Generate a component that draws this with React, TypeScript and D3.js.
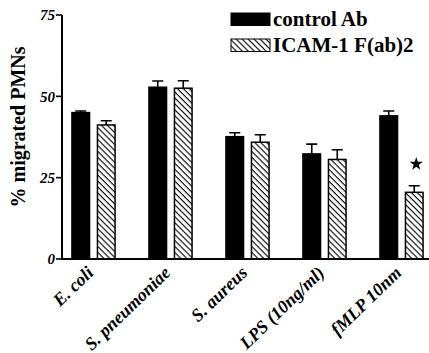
import React, { useRef, useEffect } from 'react';
import * as d3 from 'd3';

const categories = ['E. coli', 'S. pneumoniae', 'S. aureus', 'LPS (10ng/ml)', 'fMLP 10nm'];
const seriesNames = ['control Ab', 'ICAM-1 F(ab)2'];
const controlValues = [45.0, 52.8, 37.6, 32.3, 44.0];
const controlErrors = [0.5, 1.9, 1.2, 3.0, 1.5];
const icamValues = [41.2, 52.5, 35.9, 30.6, 20.5];
const icamErrors = [1.3, 2.3, 2.3, 3.0, 2.0];
const yTicks = [0, 25, 50, 75];
const significant = [false, false, false, false, true];

const FONT = 'Liberation Serif';

const App = () => {
  const svgRef = useRef(null);

  useEffect(() => {
    const width = 429;
    const svg = d3.select(svgRef.current);
    svg.selectAll('*').remove();

    const axisX = 62;
    const y = d3.scaleLinear().domain([0, 75]).range([259, 15]);

    const x0 = d3.scaleBand()
      .domain(categories)
      .range([55, 440])
      .paddingInner(0.44)
      .paddingOuter(0.22);

    const x1 = d3.scaleBand()
      .domain(seriesNames)
      .range([0, x0.bandwidth()])
      .paddingInner(0.31);

    const defs = svg.append('defs');
    const pat = defs.append('pattern')
      .attr('id', 'hatch')
      .attr('patternUnits', 'userSpaceOnUse')
      .attr('width', 4.2)
      .attr('height', 4.2)
      .attr('patternTransform', 'rotate(45)');
    pat.append('rect').attr('width', 4.2).attr('height', 4.2).attr('fill', '#fff');
    pat.append('line')
      .attr('x1', 0).attr('y1', 0).attr('x2', 4.2).attr('y2', 0)
      .attr('stroke', '#000').attr('stroke-width', 2.2);

    const data = categories.map((c, i) => ({
      cat: c,
      bars: [
        { s: seriesNames[0], v: controlValues[i], e: controlErrors[i] },
        { s: seriesNames[1], v: icamValues[i], e: icamErrors[i] },
      ],
    }));

    const groups = svg.append('g')
      .selectAll('g')
      .data(data)
      .enter()
      .append('g')
      .attr('transform', d => `translate(${x0(d.cat)},0)`);

    // error bars (up only)
    groups.selectAll('path.err')
      .data(d => d.bars)
      .enter()
      .append('path')
      .attr('class', 'err')
      .attr('d', d => {
        const cx = x1(d.s) + x1.bandwidth() / 2;
        const top = y(d.v + d.e);
        return `M${cx},${y(d.v)}V${top}M${cx - 5.5},${top}H${cx + 5.5}`;
      })
      .attr('stroke', '#000')
      .attr('stroke-width', 1.6)
      .attr('fill', 'none');

    groups.selectAll('rect')
      .data(d => d.bars)
      .enter()
      .append('rect')
      .attr('x', d => x1(d.s))
      .attr('y', d => y(d.v))
      .attr('width', x1.bandwidth())
      .attr('height', d => y(0) - y(d.v))
      .attr('fill', d => d.s === seriesNames[0] ? '#000' : 'url(#hatch)')
      .attr('stroke', '#000')
      .attr('stroke-width', 1.5);

    // significance star
    svg.append('g')
      .selectAll('path')
      .data(data.filter((d, i) => significant[i]))
      .enter()
      .append('path')
      .attr('d', d3.symbol().type(d3.symbolStar).size(55))
      .attr('transform', d => {
        const cx = x0(d.cat) + x1(seriesNames[1]) + x1.bandwidth() / 2 + 2;
        return `translate(${cx},164)`;
      })
      .attr('fill', '#000');

    // axes
    svg.append('line')
      .attr('x1', axisX).attr('x2', axisX)
      .attr('y1', y(75)).attr('y2', y(0))
      .attr('stroke', '#000').attr('stroke-width', 2);
    svg.append('line')
      .attr('x1', axisX - 1).attr('x2', width)
      .attr('y1', y(0)).attr('y2', y(0))
      .attr('stroke', '#000').attr('stroke-width', 2);

    const ticks = svg.append('g');
    ticks.selectAll('line')
      .data(yTicks)
      .enter()
      .append('line')
      .attr('x1', axisX - 6).attr('x2', axisX)
      .attr('y1', d => y(d)).attr('y2', d => y(d))
      .attr('stroke', '#000').attr('stroke-width', 1.6);
    ticks.selectAll('text')
      .data(yTicks)
      .enter()
      .append('text')
      .attr('x', axisX - 7)
      .attr('y', d => y(d))
      .attr('dy', '0.35em')
      .attr('text-anchor', 'end')
      .attr('font-family', FONT)
      .attr('font-weight', 'bold')
      .attr('font-style', 'italic')
      .attr('font-size', 15)
      .text(d => d);

    svg.append('g')
      .selectAll('text')
      .data(categories)
      .enter()
      .append('text')
      .attr('transform', d => `translate(${x0(d) + x0.bandwidth() / 2 + 1},274) rotate(-44)`)
      .attr('text-anchor', 'end')
      .attr('font-family', FONT)
      .attr('font-weight', 'bold')
      .attr('font-style', 'italic')
      .attr('font-size', 18)
      .text(d => d);

    svg.append('text')
      .attr('transform', `translate(25,127) rotate(-90)`)
      .attr('text-anchor', 'middle')
      .attr('font-family', FONT)
      .attr('font-weight', 'bold')
      .attr('font-size', 20)
      .text('% migrated PMNs');

    // legend
    const legend = svg.append('g')
      .selectAll('g')
      .data(seriesNames)
      .enter()
      .append('g')
      .attr('transform', (d, i) => `translate(231,${13 + i * 26})`);
    legend.append('rect')
      .attr('width', 39)
      .attr('height', 12.5)
      .attr('fill', (d, i) => i === 0 ? '#000' : 'url(#hatch)')
      .attr('stroke', '#000')
      .attr('stroke-width', 1);
    legend.append('text')
      .attr('x', 42)
      .attr('y', 13)
      .attr('font-family', FONT)
      .attr('font-weight', 'bold')
      .attr('font-size', 21)
      .text(d => d);
  }, []);

  return (
    <svg ref={svgRef} width={429} height={353}
      style={{ position: 'absolute', left: 0, top: 0, background: '#fff' }} />
  );
};

export default App;
